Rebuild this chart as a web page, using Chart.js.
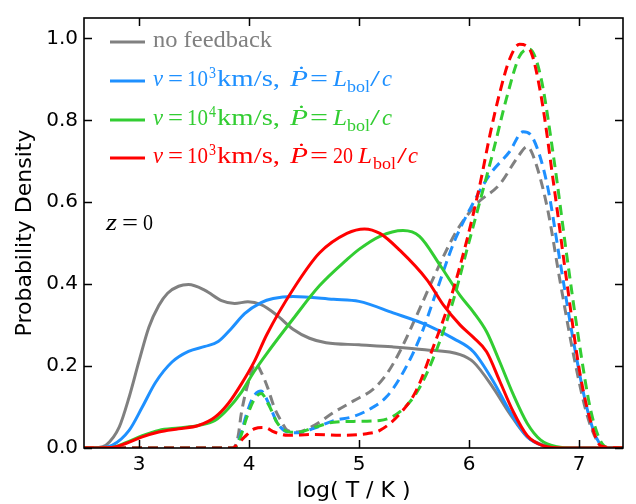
<!DOCTYPE html>
<html>
<head>
<meta charset="utf-8">
<script src="https://cdn.jsdelivr.net/npm/chart.js@4.4.1/dist/chart.umd.min.js"></script>
<style>
  html, body { margin: 0; padding: 0; background: #fff; }
  #box { width: 636px; height: 504px; }
</style>
</head>
<body>
<div id="box"><canvas id="grafico"></canvas></div>
<script>
// log T grid and densities (solid = one set, dashed = other set)
const noFbX = [2.5, 2.62, 2.70, 2.82, 2.91, 3.0, 3.09, 3.18, 3.26, 3.36, 3.45, 3.60, 3.75, 3.87, 3.99, 4.11, 4.25, 4.40, 4.55, 4.70, 5.0, 5.3, 5.6, 5.92, 6.04, 6.22, 6.37, 6.53, 6.68, 6.85, 7.4];
const noFbY = [0, 0.001, 0.007, 0.051, 0.124, 0.212, 0.295, 0.348, 0.378, 0.395, 0.399, 0.385, 0.36, 0.353, 0.357, 0.350, 0.325, 0.29, 0.268, 0.257, 0.252, 0.247, 0.24, 0.228, 0.21, 0.147, 0.084, 0.027, 0.007, 0, 0];

const v3X = [2.5, 2.65, 2.76, 2.91, 3.03, 3.15, 3.30, 3.45, 3.60, 3.72, 3.84, 3.96, 4.11, 4.22, 4.40, 4.77, 5.0, 5.31, 5.62, 5.86, 6.04, 6.22, 6.37, 6.53, 6.68, 6.85, 7.4];
const v3Y = [0, 0.001, 0.007, 0.043, 0.10, 0.16, 0.21, 0.236, 0.248, 0.26, 0.292, 0.328, 0.355, 0.365, 0.37, 0.363, 0.358, 0.33, 0.30, 0.267, 0.235, 0.163, 0.09, 0.027, 0.005, 0, 0];

const v4X = [2.5, 2.75, 2.88, 3.03, 3.18, 3.36, 3.54, 3.69, 3.81, 3.93, 4.05, 4.16, 4.40, 4.64, 4.89, 5.0, 5.19, 5.40, 5.55, 5.74, 5.92, 6.04, 6.16, 6.28, 6.40, 6.53, 6.65, 6.80, 6.95, 7.4];
const v4Y = [0, 0.001, 0.013, 0.030, 0.043, 0.049, 0.055, 0.067, 0.096, 0.136, 0.188, 0.23, 0.315, 0.396, 0.46, 0.485, 0.517, 0.531, 0.517, 0.445, 0.372, 0.332, 0.284, 0.21, 0.132, 0.06, 0.02, 0.003, 0, 0];

const p20X = [2.5, 2.75, 2.88, 3.03, 3.18, 3.36, 3.54, 3.69, 3.81, 3.93, 4.05, 4.16, 4.40, 4.64, 4.89, 5.05, 5.19, 5.37, 5.62, 5.77, 5.92, 6.04, 6.16, 6.28, 6.40, 6.53, 6.68, 6.85, 7.4];
const p20Y = [0, 0.001, 0.011, 0.027, 0.039, 0.047, 0.055, 0.075, 0.108, 0.156, 0.212, 0.276, 0.387, 0.476, 0.524, 0.535, 0.524, 0.483, 0.41, 0.348, 0.30, 0.27, 0.235, 0.163, 0.09, 0.03, 0.005, 0, 0];

const noFbDashX = [2.5, 3.85, 3.90, 3.93, 3.99, 4.06, 4.12, 4.17, 4.23, 4.29, 4.35, 4.44, 4.59, 4.77, 4.95, 5.13, 5.25, 5.37, 5.55, 5.71, 5.89, 6.07, 6.28, 6.44, 6.53, 6.58, 6.71, 6.83, 6.95, 7.07, 7.16, 7.25, 7.4];
const noFbDashY = [0, 0, 0.027, 0.084, 0.156, 0.205, 0.18, 0.147, 0.099, 0.067, 0.043, 0.039, 0.055, 0.087, 0.115, 0.144, 0.18, 0.235, 0.339, 0.435, 0.531, 0.596, 0.644, 0.709, 0.736, 0.716, 0.589, 0.404, 0.228, 0.084, 0.02, 0, 0];

const v3DashX = [2.5, 3.87, 3.92, 3.98, 4.04, 4.11, 4.18, 4.26, 4.35, 4.44, 4.59, 4.77, 4.95, 5.13, 5.25, 5.37, 5.55, 5.71, 5.86, 6.01, 6.19, 6.37, 6.49, 6.58, 6.71, 6.83, 6.95, 7.07, 7.16, 7.25, 7.4];
const v3DashY = [0, 0, 0.03, 0.085, 0.125, 0.139, 0.108, 0.06, 0.039, 0.037, 0.048, 0.067, 0.077, 0.10, 0.125, 0.17, 0.267, 0.387, 0.50, 0.584, 0.668, 0.724, 0.772, 0.757, 0.644, 0.452, 0.26, 0.10, 0.024, 0, 0];

const v4DashX = [2.5, 3.87, 3.92, 3.98, 4.04, 4.11, 4.18, 4.26, 4.35, 4.44, 4.59, 4.77, 4.95, 5.19, 5.40, 5.55, 5.71, 5.86, 5.98, 6.10, 6.22, 6.34, 6.46, 6.55, 6.65, 6.77, 6.89, 7.01, 7.10, 7.19, 7.27, 7.4];
const v4DashY = [0, 0, 0.025, 0.075, 0.115, 0.133, 0.105, 0.06, 0.04, 0.038, 0.05, 0.063, 0.065, 0.067, 0.095, 0.147, 0.243, 0.363, 0.483, 0.603, 0.724, 0.853, 0.957, 0.974, 0.909, 0.709, 0.468, 0.243, 0.10, 0.02, 0, 0];

const p20DashX = [2.5, 3.85, 3.88, 3.96, 4.05, 4.14, 4.23, 4.35, 4.59, 4.83, 5.07, 5.19, 5.37, 5.52, 5.67, 5.83, 5.98, 6.10, 6.19, 6.28, 6.37, 6.46, 6.55, 6.65, 6.77, 6.89, 7.01, 7.13, 7.2, 7.4];
const p20DashY = [0, 0, 0.005, 0.027, 0.047, 0.05, 0.039, 0.031, 0.033, 0.031, 0.035, 0.043, 0.083, 0.14, 0.243, 0.363, 0.507, 0.644, 0.764, 0.868, 0.95, 0.986, 0.974, 0.868, 0.644, 0.404, 0.18, 0.043, 0.005, 0];

const xTicks = [3, 4, 5, 6, 7];
const yTicks = [0, 0.2, 0.4, 0.6, 0.8, 1.0];

const cinza = '#808080';
const azul = '#1e90ff';
const verde = '#32cd32';
const vermelho = '#ff0000';

function pontos(xs, ys) {
    return xs.map((x, i) => ({ x: x, y: ys[i] }));
}

function serie(xs, ys, cor, tracejado, ordem) {
    return {
        data: pontos(xs, ys),
        borderColor: cor,
        borderWidth: 3,
        borderDash: tracejado ? [10, 6] : [],
        pointRadius: 0,
        fill: false,
        cubicInterpolationMode: 'monotone',
        order: ordem
    };
}

// LaTeX-like text: each piece sits at offset dx and is fitted to width w
function escreverMath(ctx, x, y, partes, cor, tam) {
    ctx.save();
    ctx.fillStyle = cor;
    ctx.textBaseline = 'alphabetic';
    ctx.textAlign = 'left';
    partes.forEach(p => {
        let size = tam;
        let dy = 0;
        if (p.sup) { size = Math.round(tam * 0.7); dy = -8; }
        if (p.sub) { size = Math.round(tam * 0.7); dy = 6; }
        ctx.font = (p.it ? 'italic ' : '') + size + 'px "Liberation Serif", "DejaVu Serif", serif';
        const largura = ctx.measureText(p.t).width;
        const k = p.w ? p.w / largura : 1;
        ctx.save();
        ctx.translate(x + p.dx, y + dy);
        ctx.scale(k, 1);
        ctx.fillText(p.t, 0, 0);
        ctx.restore();
    });
    ctx.restore();
}

function linhaV(expoente) {
    return [
        { t: 'v', it: true, dx: 0, w: 10 },
        { t: '=', dx: 15, w: 15 },
        { t: '10', dx: 34, w: 21 },
        { t: expoente, sup: true, dx: 56, w: 7 },
        { t: 'km/s,', dx: 64, w: 63 },
        { t: 'P\u0307', it: true, dx: 137, w: 18 },
        { t: '=', dx: 157, w: 18 }
    ];
}

const legenda = [
    { cor: cinza, partes: [{ t: 'no feedback', dx: 0, w: 119 }] },
    { cor: azul, partes: linhaV('3').concat([{ t: 'L', it: true, dx: 180, w: 14 }, { t: 'bol', sub: true, dx: 194, w: 23 }, { t: '/', dx: 217, w: 10 }, { t: 'c', it: true, dx: 229, w: 10 }]) },
    { cor: verde, partes: linhaV('4').concat([{ t: 'L', it: true, dx: 180, w: 14 }, { t: 'bol', sub: true, dx: 194, w: 23 }, { t: '/', dx: 217, w: 10 }, { t: 'c', it: true, dx: 229, w: 10 }]) },
    { cor: vermelho, partes: linhaV('3').concat([{ t: '20', dx: 180, w: 20 }, { t: 'L', it: true, dx: 205, w: 14 }, { t: 'bol', sub: true, dx: 220, w: 23 }, { t: '/', dx: 244, w: 10 }, { t: 'c', it: true, dx: 255, w: 10 }]) }
];

const molduraPlugin = {
    id: 'moldura',
    afterDraw(chart) {
        const ctx = chart.ctx;
        const a = chart.chartArea;
        const sx = chart.scales.x;
        const sy = chart.scales.y;
        ctx.save();
        ctx.strokeStyle = '#000';
        ctx.lineWidth = 1.5;
        // inward ticks on all four sides
        ctx.beginPath();
        xTicks.forEach(v => {
            const px = Math.round(sx.getPixelForValue(v)) + 0.5;
            ctx.moveTo(px, a.bottom); ctx.lineTo(px, a.bottom - 8);
            ctx.moveTo(px, a.top); ctx.lineTo(px, a.top + 8);
        });
        yTicks.forEach(v => {
            const py = Math.round(sy.getPixelForValue(v)) + 0.5;
            ctx.moveTo(a.left, py); ctx.lineTo(a.left + 8, py);
            ctx.moveTo(a.right, py); ctx.lineTo(a.right - 8, py);
        });
        ctx.stroke();
        ctx.lineWidth = 1.6;
        ctx.strokeRect(a.left, a.top, a.right - a.left, a.bottom - a.top);
        ctx.restore();

        // legend
        const linhas = [42, 81, 120, 158];
        legenda.forEach((item, i) => {
            const y = linhas[i];
            ctx.save();
            ctx.strokeStyle = item.cor;
            ctx.lineWidth = 3;
            ctx.beginPath();
            ctx.moveTo(110, y); ctx.lineTo(145, y);
            ctx.stroke();
            ctx.restore();
            escreverMath(ctx, 153, y + 5, item.partes, item.cor, 24);
        });

        escreverMath(ctx, 106, 230, [{ t: 'z', it: true, dx: 0, w: 11 }, { t: '=', dx: 16, w: 16 }, { t: '0', dx: 37, w: 10 }], '#000', 24);
    }
};

const ctx = document.getElementById('grafico');

new Chart(ctx, {
    type: 'line',
    data: {
        datasets: [
            serie(noFbX, noFbY, cinza, false, 8),
            serie(noFbDashX, noFbDashY, cinza, true, 7),
            serie(v3X, v3Y, azul, false, 6),
            serie(v3DashX, v3DashY, azul, true, 5),
            serie(v4X, v4Y, verde, false, 4),
            serie(v4DashX, v4DashY, verde, true, 3),
            serie(p20X, p20Y, vermelho, false, 2),
            serie(p20DashX, p20DashY, vermelho, true, 1)
        ]
    },
    options: {
        responsive: true,
        maintainAspectRatio: false,
        animation: false,
        layout: { padding: { top: 10, right: 13, left: 0, bottom: 0 } },
        scales: {
            x: {
                type: 'linear',
                min: 2.5,
                max: 7.4,
                grid: { display: false, drawTicks: false },
                border: { display: false },
                afterFit: s => { s.height = 56; },
                ticks: {
                    stepSize: 1,
                    includeBounds: false,
                    padding: 5,
                    maxRotation: 0,
                    color: '#000',
                    font: { family: '"DejaVu Sans"', size: 20 },
                    callback: v => String(v)
                },
                title: {
                    display: true,
                    text: 'log( T / K )',
                    color: '#000',
                    font: { family: '"DejaVu Sans"', size: 22 },
                    padding: { top: 0, bottom: 0 }
                }
            },
            y: {
                min: 0,
                max: 1.05,
                grid: { display: false, drawTicks: false },
                border: { display: false },
                afterFit: s => { s.width = 84; },
                ticks: {
                    stepSize: 0.2,
                    includeBounds: false,
                    padding: 6,
                    color: '#000',
                    font: { family: '"DejaVu Sans"', size: 20 },
                    callback: v => v.toFixed(1)
                },
                title: {
                    display: true,
                    text: 'Probability Density',
                    color: '#000',
                    font: { family: '"DejaVu Sans"', size: 22 },
                    padding: { top: 12, bottom: 0 }
                }
            }
        },
        plugins: {
            legend: { display: false },
            tooltip: { enabled: false }
        }
    },
    plugins: [molduraPlugin]
});
</script>
</body>
</html>
